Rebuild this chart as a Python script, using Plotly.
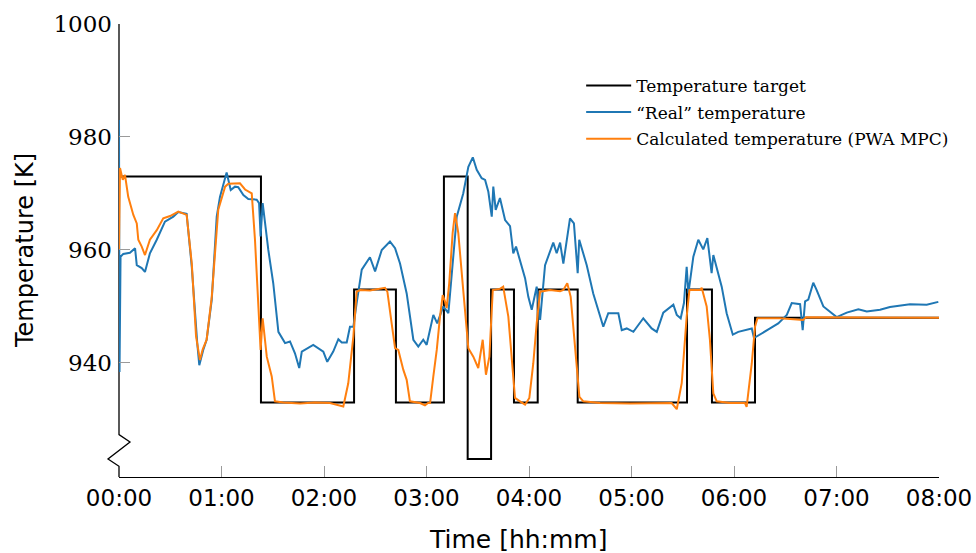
import plotly.graph_objects as go

# Time in minutes since start, temperatures in kelvin
target_time = [0, 83.1, 137.6, 162.1, 190.2, 204.1, 217.8, 231.2, 245.1, 268.5, 332.5, 347.1, 372.3, 480]
target_temp = [973, 933, 953, 933, 973, 923, 953, 933, 953, 933, 953, 933, 948, 948]

real_time = [0, 0.3, 0.9, 2.5, 6.4, 9.4, 10.4, 13.3, 15.2, 18.1, 22.1, 26.9, 31.8, 34.7, 39.6,
             42.6, 45.8, 47.0, 49.3, 51.3, 54.3, 57.2, 59.1, 63.0, 65.4, 67.9, 69.8, 72.8,
             75.7, 80.6, 82.0, 82.9, 84.1, 87.4, 90.3, 93.3, 97.2, 100.1, 103.0, 105.5,
             107.0, 111.8, 113.7, 119.6, 121.9, 125.4, 128.4, 130.4, 133.3, 135.2, 137.2,
             139.1, 142.1, 146.9, 149.9, 153.8, 158.6, 161.6, 164.5, 168.4, 172.3, 175.2,
             178.1, 180.1, 184.0, 186.3, 189.8, 192.8, 197.7, 201.5, 204.5, 207.1, 209.4,
             212.3, 214.3, 216.2, 218.2, 219.1, 220.5, 223.0, 226.0, 228.9, 230.8, 232.4,
             234.7, 237.7, 239.6, 241.6, 244.5, 246.5, 249.4, 254.2, 256.2, 258.2, 260.1,
             264.0, 266.3, 268.5, 269.4, 273.8, 277.6, 283.5, 286.4, 292.3, 294.3, 297.2,
             301.1, 306.9, 311.8, 314.8, 318.6, 324.5, 326.5, 328.8, 330.7, 332.3, 333.3,
             336.2, 339.1, 342.0, 344.4, 346.9, 347.9, 352.8, 355.7, 359.3, 362.5, 367.5,
             370.4, 371.7, 375.2, 381.1, 385.9, 390.9, 393.8, 398.7, 400.2, 401.6, 403.5,
             406.4, 408.4, 412.3, 420.1, 426.0, 432.8, 437.7, 445.5, 451.3, 463.0, 472.8, 479.6]
real_temp = [983.0, 938.4, 958.8, 959.3, 959.5, 960.3, 957.3, 956.8, 956.1, 959.4, 961.8, 965.0,
             965.9, 966.7, 966.4, 957.0, 943.5, 939.6, 942.3, 944.1, 951.2, 965.9, 969.4,
             973.7, 970.6, 971.2, 971.1, 969.7, 969.0, 968.9, 968.3, 962.4, 968.3, 960.0,
             954.1, 945.5, 943.5, 943.8, 941.7, 939.1, 942.0, 942.9, 943.2, 942.0, 940.2,
             942.0, 944.2, 943.6, 943.6, 946.4, 946.4, 950.6, 956.5, 958.7, 956.2, 960.0,
             961.5, 960.3, 957.6, 952.3, 944.1, 942.9, 944.1, 943.2, 948.5, 947.0, 950.0,
             948.8, 965.9, 970.0, 974.7, 976.4, 974.2, 972.7, 972.4, 970.3, 965.9, 971.2,
             967.1, 969.2, 965.3, 964.2, 959.4, 960.6, 958.2, 955.0, 951.7, 949.4, 953.5,
             947.6, 957.3, 961.3, 959.4, 961.3, 957.6, 965.6, 964.7, 955.9, 961.8, 957.3,
             952.3, 946.4, 948.8, 948.8, 945.8, 946.1, 945.5, 947.9, 946.1, 945.5, 948.9,
             950.3, 948.5, 947.9, 950.6, 957.0, 952.3, 958.8, 961.8, 960.1, 962.1, 955.9,
             959.1, 953.5, 948.8, 945.0, 945.5, 945.8, 946.1, 944.4, 945.0, 946.1, 947.0,
             948.5, 950.6, 950.4, 945.8, 950.9, 951.2, 954.2, 952.9, 950.0, 948.1, 948.9,
             949.5, 949.1, 949.4, 949.9, 950.4, 950.3, 950.8]

calc_time = [0, 0.6, 2.2, 3.5, 5.4, 8.4, 10.4, 11.3, 13.3, 15.2, 18.1, 22.1, 25.9, 29.9, 34.7,
             39.6, 42.6, 45.1, 47.4, 49.0, 51.3, 54.3, 58.1, 62.1, 64.0, 70.8, 73.8, 77.7,
             79.6, 81.5, 82.9, 84.1, 86.5, 89.4, 91.3, 96.2, 106.0, 114.7, 123.5, 131.3,
             134.2, 137.2, 139.1, 141.1, 146.9, 155.7, 157.1, 159.6, 161.6, 163.5, 166.4,
             168.4, 170.3, 176.2, 179.1, 180.9, 182.1, 184.0, 186.0, 187.9, 189.5, 190.8,
             191.8, 193.3, 195.3, 196.7, 198.6, 201.5, 204.5, 207.4, 210.3, 212.9, 214.8,
             216.8, 218.8, 223.0, 224.9, 227.9, 229.9, 231.8, 234.7, 237.7, 240.2, 242.5,
             244.5, 246.5, 252.3, 258.2, 260.1, 262.4, 264.4, 266.9, 269.5, 271.8, 281.6,
             299.1, 316.7, 323.5, 326.5, 329.4, 332.3, 333.9, 340.1, 341.1, 344.0, 345.9,
             347.9, 349.9, 357.6, 366.4, 367.4, 370.4, 372.3, 373.7, 387.0, 400.4, 402.2, 480]
calc_temp = [960.0, 974.5, 972.4, 973.3, 969.4, 966.2, 964.7, 961.8, 960.6, 959.1, 961.8, 963.5,
             965.6, 966.0, 966.8, 966.2, 957.6, 944.7, 940.5, 942.4, 944.1, 951.7, 967.1,
             971.2, 971.7, 971.8, 970.7, 970.0, 961.8, 951.2, 942.3, 947.9, 941.1, 937.6,
             933.2, 933.0, 932.8, 933.0, 932.9, 932.3, 936.4, 944.7, 952.6, 952.9, 952.8,
             953.3, 952.6, 947.0, 942.6, 942.3, 938.8, 937.0, 933.2, 932.9, 932.5, 932.9,
             932.9, 937.6, 942.3, 948.2, 952.0, 950.9, 949.7, 954.1, 963.0, 966.5, 963.0,
             952.9, 942.6, 941.1, 939.1, 944.1, 937.9, 941.1, 952.9, 953.1, 953.5, 948.2,
             941.1, 933.8, 933.2, 932.6, 933.8, 939.9, 947.0, 952.6, 952.9, 952.7, 952.9,
             954.1, 951.7, 942.3, 934.0, 933.2, 932.9, 932.8, 932.9, 932.9, 931.8, 936.4,
             948.2, 952.9, 952.9, 953.3, 950.0, 944.1, 934.6, 933.2, 932.9, 932.9, 932.2,
             939.9, 946.4, 947.9, 947.9, 947.6, 948.1, 948.0]

tick_minutes = [0, 60, 120, 180, 240, 300, 360, 420, 480]
tick_labels = ["00:00", "01:00", "02:00", "03:00", "04:00", "05:00", "06:00", "07:00", "08:00"]
y_ticks = [940, 960, 980, 1000]

y_min, y_max = 919.8, 1000

fig = go.Figure()
fig.add_trace(go.Scatter(x=target_time, y=target_temp, mode="lines", line_shape="hv",
                         name="Temperature target", legendgroup="a",
                         line=dict(color="black", width=2)))
fig.add_trace(go.Scatter(x=real_time, y=real_temp, mode="lines",
                         name="“Real” temperature", legendgroup="b",
                         line=dict(color="#1f77b4", width=2)))
fig.add_trace(go.Scatter(x=calc_time, y=calc_temp, mode="lines",
                         name="Calculated temperature (PWA MPC)", legendgroup="c",
                         line=dict(color="#ff7f0e", width=2)))

# Broken y axis: straight line, zigzag, then down to the x axis
dx = 11 / 820
axis_path = (f"M 0,{y_max} L 0,927.3 L {dx},926.0 L {-dx},923.0 L 0,921.7 L 0,{y_min}")
fig.add_shape(type="path", path=axis_path, xref="x domain", yref="y",
              line=dict(color="black", width=1.3), layer="below")

fig.update_layout(
    width=976, height=553,
    margin=dict(l=119, r=37, t=24, b=76, autoexpand=False),
    paper_bgcolor="white", plot_bgcolor="white",
    showlegend=True,
    legend=dict(x=0.5636, y=0.903, xanchor="left", yanchor="top",
                bgcolor="rgba(0,0,0,0)", borderwidth=0,
                traceorder="grouped", tracegroupgap=1.5, itemwidth=45,
                font=dict(family="DejaVu Serif", size=17, color="black")),
    xaxis=dict(range=[0, 480], tickvals=tick_minutes, ticktext=tick_labels,
               automargin=False,
               showgrid=False, zeroline=False, showline=True, linecolor="black",
               linewidth=1.3, ticks="inside", ticklen=11, tickcolor="#9a9a9a",
               tickwidth=1.3, tickfont=dict(family="DejaVu Sans", size=23, color="black")),
    yaxis=dict(range=[y_min, y_max], tickvals=y_ticks, showgrid=False, zeroline=False,
               automargin=False,
               showline=False, ticks="inside", ticklen=11, tickcolor="#9a9a9a",
               tickwidth=1.3, ticklabelstandoff=6,
               tickfont=dict(family="DejaVu Serif", size=23, color="black")),
    annotations=[
        dict(text="Time [hh:mm]", xref="paper", yref="paper", x=0.4866, y=-0.137,
             xanchor="center", yanchor="middle", showarrow=False,
             font=dict(family="DejaVu Sans", size=25, color="black")),
        dict(text="Temperature [K]", xref="paper", yref="paper", x=-0.1146, y=0.499,
             xanchor="center", yanchor="middle", textangle=-90, showarrow=False,
             font=dict(family="DejaVu Sans", size=24, color="black")),
    ],
)

fig.write_html("out.html")
